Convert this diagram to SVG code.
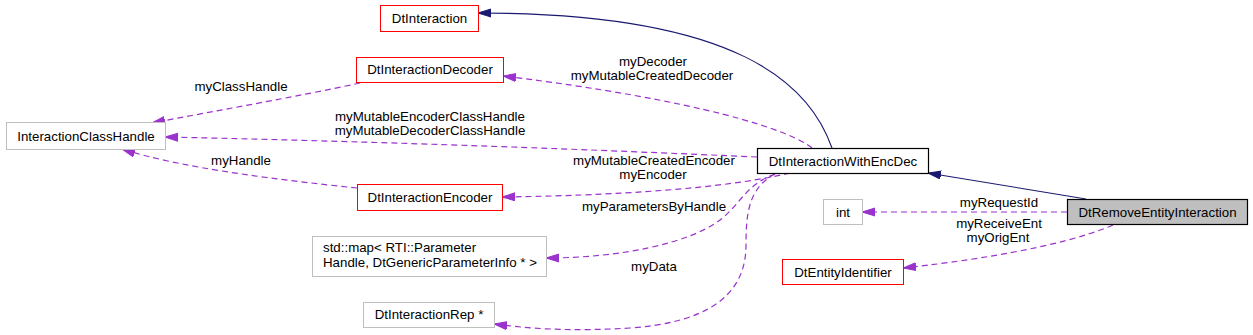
<svg xmlns="http://www.w3.org/2000/svg" width="1253" height="335" viewBox="0 0 1253 335">
<style>
text{font-family:"Liberation Sans",Arial,sans-serif;font-size:13.3px;fill:#000}
.n text{text-anchor:middle}
.lbl{text-anchor:middle}
.red{fill:#fff;stroke:#ff0000;stroke-width:1}
.gray{fill:#fff;stroke:#bfbfbf;stroke-width:1}
.blk{fill:#fff;stroke:#000;stroke-width:1.2}
.cur{fill:#bfbfbf;stroke:#000;stroke-width:1.2}
.inh{fill:none;stroke:#191970;stroke-width:1.1;marker-end:url(#an)}
.use{fill:none;stroke:#9a32cd;stroke-width:1.2;stroke-dasharray:6,4;marker-end:url(#ap)}
</style>
<defs>
<marker id="an" markerUnits="userSpaceOnUse" markerWidth="14" markerHeight="10" refX="13" refY="4.5" orient="auto" viewBox="0 0 14 10">
<path d="M0,0.5 L13,4.5 L0,8.5 z" fill="#191970" stroke="#191970" stroke-width="1"/>
</marker>
<marker id="ap" markerUnits="userSpaceOnUse" markerWidth="14" markerHeight="10" refX="13" refY="4.5" orient="auto" viewBox="0 0 14 10">
<path d="M0,0.5 L13,4.5 L0,8.5 z" fill="#9a32cd" stroke="#9a32cd" stroke-width="1"/>
</marker>
</defs>
<g id="connectors">
<path class="inh" d="M832,148 C810,85 740,13 478,13"/>
<path class="inh" d="M1086,199 L928,173"/>
<path class="use" d="M1067,212 L862,212"/>
<path class="use" d="M1113,225 C1060,248 960,262 903,268"/>
<path class="use" d="M360,83 C300,96 220,110 152,123"/>
<path class="use" d="M757,157 C600,150 400,142 165,137"/>
<path class="use" d="M812,148 C790,130 700,100 503,76"/>
<path class="use" d="M357,188 C280,180 180,168 122,149"/>
<path class="use" d="M790,173 C740,185 650,195 502,197"/>
<path class="use" d="M775,174 C745,185 740,205 720,220 C690,243 620,258 546,258"/>
<path class="use" d="M775,174 C748,188 746,215 746,245 C746,300 700,323 630,328 C580,331 540,330 494,324"/>
<text class="lbl" x="999" y="207">myRequestId</text>
<text class="lbl" x="999" y="228">myReceiveEnt</text>
<text class="lbl" x="998" y="242">myOrigEnt</text>
<text class="lbl" x="241" y="91">myClassHandle</text>
<text class="lbl" x="430" y="121">myMutableEncoderClassHandle</text>
<text class="lbl" x="430" y="135">myMutableDecoderClassHandle</text>
<text class="lbl" x="653" y="66">myDecoder</text>
<text class="lbl" x="652" y="80">myMutableCreatedDecoder</text>
<text class="lbl" x="241" y="165">myHandle</text>
<text class="lbl" x="654" y="165">myMutableCreatedEncoder</text>
<text class="lbl" x="653" y="179">myEncoder</text>
<text class="lbl" x="654" y="211">myParametersByHandle</text>
<text class="lbl" x="654" y="271">myData</text>
</g>
<g id="DtInteraction" class="n"><rect class="red" x="380.5" y="5.5" width="98" height="26"/><text x="429.5" y="22.5">DtInteraction</text></g>
<g id="DtInteractionDecoder" class="n"><rect class="red" x="356.5" y="57.5" width="147" height="25"/><text x="430" y="74">DtInteractionDecoder</text></g>
<g id="InteractionClassHandle" class="n"><rect class="gray" x="6.5" y="122.5" width="159" height="27"/><text x="86" y="140.5">InteractionClassHandle</text></g>
<g id="DtInteractionEncoder" class="n"><rect class="red" x="357.5" y="184.5" width="145" height="26"/><text x="430" y="202">DtInteractionEncoder</text></g>
<g id="StdMap" class="n"><rect class="gray" x="312.5" y="236.5" width="234" height="40"/><text x="323" y="252" style="text-anchor:start">std::map&lt; RTI::Parameter</text><text x="323" y="267" style="text-anchor:start">Handle, DtGenericParameterInfo * &gt;</text></g>
<g id="DtInteractionRep" class="n"><rect class="gray" x="363.5" y="302.5" width="131" height="25"/><text x="429" y="319">DtInteractionRep *</text></g>
<g id="DtInteractionWithEncDec" class="n"><rect class="blk" x="757.5" y="148.5" width="171" height="25"/><text x="843" y="165.5">DtInteractionWithEncDec</text></g>
<g id="int" class="n"><rect class="gray" x="823.5" y="199.5" width="39" height="25"/><text x="843" y="216.5">int</text></g>
<g id="DtRemoveEntityInteraction" class="n"><rect class="cur" x="1067.5" y="199.5" width="180" height="25"/><text x="1157.5" y="216.5">DtRemoveEntityInteraction</text></g>
<g id="DtEntityIdentifier" class="n"><rect class="red" x="782.5" y="259.5" width="121" height="25"/><text x="843" y="276.5">DtEntityIdentifier</text></g>
</svg>
